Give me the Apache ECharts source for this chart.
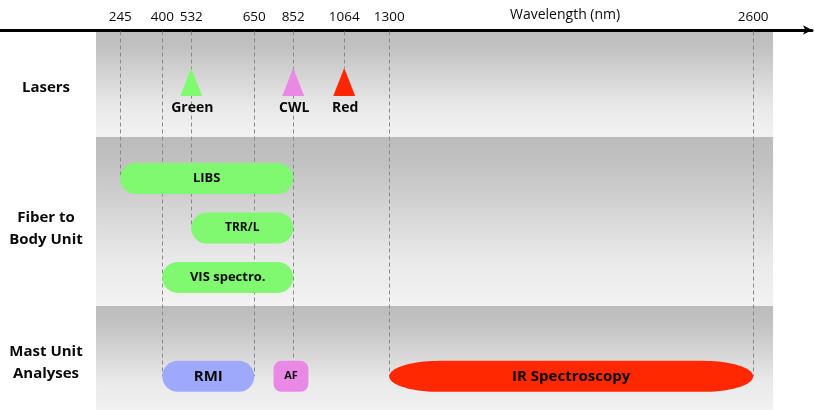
<!DOCTYPE html>
<html><head><meta charset="utf-8">
<script src="https://cdn.jsdelivr.net/npm/echarts@6/dist/echarts.min.js"></script>
<style>html,body{margin:0;padding:0;background:#fff}#c{width:814px;height:410px}</style>
</head><body><div id="c"></div>
<script>
// ---------------- DATA ----------------
const tickWavelengths = [245, 400, 532, 650, 852, 1064, 1300, 2600];
// schematic (non-linear) axis: scale position of each tick wavelength
const tickSlots = [0, 6.64, 11.22, 21.17, 27.33, 35.39, 42.5, 100];
const axisTitle = 'Wavelength (nm)';
const rowNames = ['Lasers', 'Fiber to\nBody Unit', 'Mast Unit\nAnalyses'];
const laserNames = ['Green', 'CWL', 'Red'];
const laserWavelengths = [532, 852, 1064];
const fiberNames = ['LIBS', 'TRR/L', 'VIS spectro.'];
const fiberStart = [245, 532, 400];
const fiberEnd = [852, 852, 852];
const mastNames = ['RMI', 'AF', 'IR Spectroscopy'];
const mastStart = [400, 750, 1300];
const mastEnd = [650, 915, 2600];
// which instrument each dashed guide line runs down to
const guideTargets = ['LIBS', 'RMI', 'TRR/L', 'RMI', 'AF', 'Red', 'IR Spectroscopy', 'IR Spectroscopy'];

// ---------------- LAYOUT / STYLE ----------------
const FONT = '"Open Sans", "Liberation Sans", sans-serif';
const X_MIN = -19, X_MAX = 109.3, Y_MAX = 7.68;
const BAND_X = [-3.83, 103.14];
const BAND_EDGES = [0, 2.16, 5.58, Y_MAX];
const ROW_LABEL_LANES = [1.17, 4.02, 6.73];
const ROW_LABEL_X = 46;
const BAR_H = 31, TRI_W = 22, TRI_H = 28;
const TEXT = '#0a0a0a';
const laserStyle = {
  'Green': {lane: 1.05, color: '#80fb70'},
  'CWL':   {lane: 1.05, color: '#ea88e6'},
  'Red':   {lane: 1.05, color: '#ff2500'}
};
const barStyle = {
  'LIBS':            {lane: 3, color: '#80f870', font: 13, shape: 'pill'},
  'TRR/L':           {lane: 4, color: '#80f870', font: 12, shape: 'pill'},
  'VIS spectro.':    {lane: 5, color: '#80f870', font: 13, shape: 'pill'},
  'RMI':             {lane: 7, color: '#9ea9fb', font: 15, shape: 'pill'},
  'AF':              {lane: 7, color: '#ea88e6', font: 11, shape: 'round'},
  'IR Spectroscopy': {lane: 7, color: '#ff2800', font: 15, shape: 'lens'}
};

function toSlot(w) {
  const n = tickWavelengths.length;
  let i = 0;
  if (w >= tickWavelengths[n - 1]) i = n - 2;
  else if (w > tickWavelengths[0]) { while (w > tickWavelengths[i + 1]) i++; }
  const w0 = tickWavelengths[i], w1 = tickWavelengths[i + 1];
  return tickSlots[i] + (w - w0) / (w1 - w0) * (tickSlots[i + 1] - tickSlots[i]);
}

const bars = [];
fiberNames.forEach((n, i) => bars.push({name: n, start: fiberStart[i], end: fiberEnd[i]}));
mastNames.forEach((n, i) => bars.push({name: n, start: mastStart[i], end: mastEnd[i]}));

const barData = bars.map((b, i) => [toSlot(b.start), toSlot(b.end), barStyle[b.name].lane, i]);
const laserData = laserNames.map((n, i) => [toSlot(laserWavelengths[i]), laserStyle[n].lane, i]);

// guide lines: mode 0 = centre of bar, 1 = top of bar, 2 = triangle apex
const guideData = tickWavelengths.map((w, i) => {
  const t = guideTargets[i];
  const li = laserNames.indexOf(t);
  if (li >= 0) return [toSlot(w), laserStyle[t].lane, 2];
  const b = bars.find(x => x.name === t);
  const mode = (b.start === w || b.end === w) ? 0 : 1;
  return [toSlot(w), barStyle[t].lane, mode];
});

const chart = echarts.init(document.getElementById('c'), null, {renderer: 'canvas'});

const bandGradient = () => new echarts.graphic.LinearGradient(0, 0, 0, 1, [
  {offset: 0, color: '#bcbcbc'},
  {offset: 0.15, color: '#c1c1c1'},
  {offset: 0.72, color: '#e9e9e9'},
  {offset: 1, color: '#f2f2f2'}
]);

const option = {
  animation: false,
  backgroundColor: '#fff',
  grid: {left: 0, right: 2, top: 30, bottom: 0},
  graphic: [{
    type: 'text', left: 566 - 56, top: 8,
    style: {text: axisTitle, font: '14px ' + FONT, fill: TEXT}
  }],
  xAxis: {
    type: 'value', position: 'top', min: X_MIN, max: X_MAX,
    axisLine: {show: true, onZero: false, symbol: ['none', 'arrow'], symbolSize: [7, 9],
      lineStyle: {color: '#000', width: 3}},
    axisTick: {show: false},
    splitLine: {show: false},
    axisLabel: {
      customValues: tickSlots,
      margin: 6,
      fontFamily: FONT, fontSize: 13.5, color: TEXT,
      formatter: v => {
        const k = tickSlots.findIndex(s => Math.abs(s - v) < 1e-6);
        return k >= 0 ? String(tickWavelengths[k]) : '';
      }
    }
  },
  yAxis: {type: 'value', inverse: true, min: 0, max: Y_MAX, show: false},
  series: [
    { // background bands
      type: 'custom', z: 0, silent: true,
      data: rowNames.map((n, i) => [i]),
      renderItem: (params, api) => {
        const i = api.value(0);
        const p0 = api.coord([BAND_X[0], BAND_EDGES[i]]);
        const p1 = api.coord([BAND_X[1], BAND_EDGES[i + 1]]);
        return {type: 'rect', shape: {x: p0[0], y: p0[1], width: p1[0] - p0[0], height: p1[1] - p0[1]},
          style: {fill: bandGradient()}};
      }
    },
    { // dashed guide lines
      type: 'custom', z: 1, silent: true,
      data: guideData,
      renderItem: (params, api) => {
        const top = api.coord([api.value(0), 0]);
        const end = api.coord([api.value(0), api.value(1)]);
        const mode = api.value(2);
        let y1 = end[1];
        if (mode === 1) y1 -= BAR_H / 2;
        if (mode === 2) y1 -= TRI_H / 2;
        const x = Math.round(top[0]) + 0.5;
        return {type: 'line', shape: {x1: x, y1: top[1] + 1.5, x2: x, y2: y1},
          style: {stroke: '#8a8a8a', lineWidth: 1, lineDash: [4, 3]}};
      }
    },
    { // bars
      type: 'custom', z: 2, silent: true,
      data: barData,
      renderItem: (params, api) => {
        const b = bars[api.value(3)];
        const st = barStyle[b.name];
        const p0 = api.coord([api.value(0), api.value(2)]);
        const p1 = api.coord([api.value(1), api.value(2)]);
        const x0 = p0[0], x1 = p1[0], yc = p0[1], h = BAR_H;
        let shapeEl;
        if (st.shape === 'lens') {
          const rx = 50, ry = h / 2, pts = [];
          for (let k = 0; k <= 40; k++) {
            const a = -Math.PI / 2 + Math.PI * k / 40;
            pts.push([x1 - rx + rx * Math.cos(a), yc + ry * Math.sin(a)]);
          }
          for (let k = 0; k <= 40; k++) {
            const a = Math.PI / 2 + Math.PI * k / 40;
            pts.push([x0 + rx + rx * Math.cos(a), yc + ry * Math.sin(a)]);
          }
          shapeEl = {type: 'polygon', shape: {points: pts}, style: {fill: st.color}};
        } else {
          const r = st.shape === 'pill' ? h / 2 : 8;
          shapeEl = {type: 'rect', shape: {x: x0, y: yc - h / 2, width: x1 - x0, height: h, r: r},
            style: {fill: st.color}};
        }
        return {type: 'group', children: [shapeEl, {
          type: 'text',
          style: {text: b.name, x: (x0 + x1) / 2, y: yc, textAlign: 'center', textVerticalAlign: 'middle',
            font: 'bold ' + st.font + 'px ' + FONT, fill: TEXT}
        }]};
      }
    },
    { // lasers
      type: 'custom', z: 3, silent: true,
      data: laserData,
      renderItem: (params, api) => {
        const name = laserNames[api.value(2)];
        const p = api.coord([api.value(0), api.value(1)]);
        const x = p[0], yc = p[1];
        return {type: 'group', children: [
          {type: 'polygon', shape: {points: [[x, yc - TRI_H / 2], [x + TRI_W / 2, yc + TRI_H / 2], [x - TRI_W / 2, yc + TRI_H / 2]]},
            style: {fill: laserStyle[name].color}},
          {type: 'text', style: {text: name, x: x + 1, y: yc + TRI_H / 2 + 12, textAlign: 'center',
            textVerticalAlign: 'middle', font: 'bold 14px ' + FONT, fill: TEXT}}
        ]};
      }
    },
    { // row labels
      type: 'custom', z: 3, silent: true,
      data: rowNames.map((n, i) => [ROW_LABEL_LANES[i], i]),
      renderItem: (params, api) => {
        const p = api.coord([X_MIN, api.value(0)]);
        return {type: 'text', style: {text: rowNames[api.value(1)], x: p[0] + ROW_LABEL_X, y: p[1],
          textAlign: 'center', textVerticalAlign: 'middle', lineHeight: 22,
          font: 'bold 15px ' + FONT, fill: TEXT}};
      }
    }
  ]
};
chart.setOption(option);
</script>
</body></html>
